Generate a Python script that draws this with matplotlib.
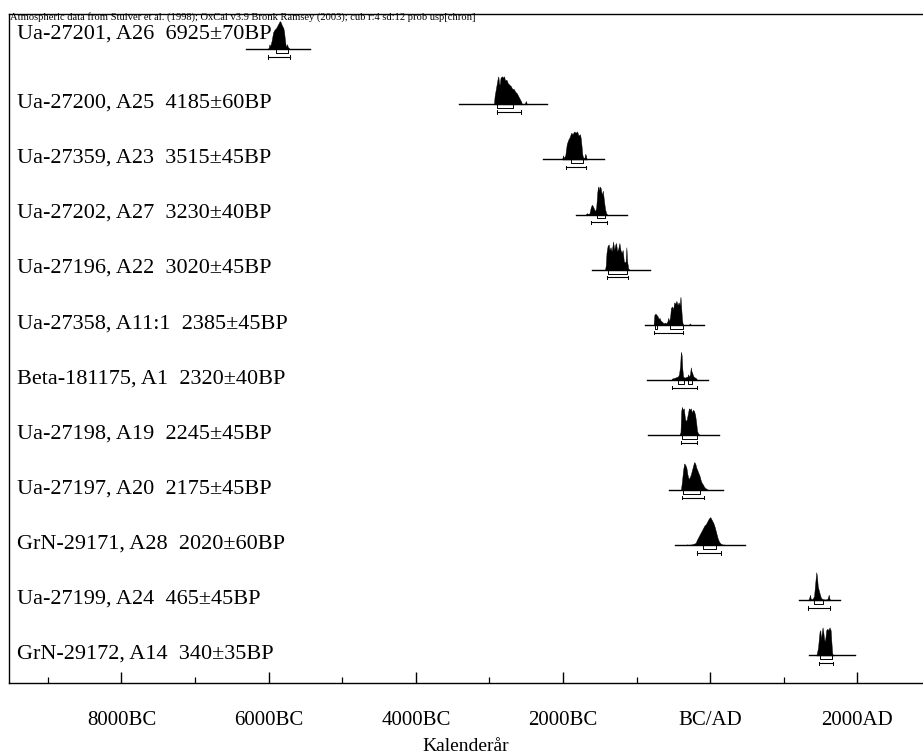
import matplotlib.pyplot as plt
import matplotlib.transforms as mtransforms
import numpy as np

HEADER = ("Atmospheric data from Stuiver et al. (1998); OxCal v3.9 Bronk Ramsey (2003); "
          "cub r:4 sd:12 prob usp[chron]")

LABELS = [
    "Ua-27201, A26  6925±70BP",
    "Ua-27200, A25  4185±60BP",
    "Ua-27359, A23  3515±45BP",
    "Ua-27202, A27  3230±40BP",
    "Ua-27196, A22  3020±45BP",
    "Ua-27358, A11:1  2385±45BP",
    "Beta-181175, A1  2320±40BP",
    "Ua-27198, A19  2245±45BP",
    "Ua-27197, A20  2175±45BP",
    "GrN-29171, A28  2020±60BP",
    "Ua-27199, A24  465±45BP",
    "GrN-29172, A14  340±35BP",
]

# calibrated distributions: calendar year (BC negative) and relative probability
ua27201_yr = [-6020, -6000, -5990, -5980, -5970, -5960, -5950, -5940, -5920, -5900, -5880,
              -5860, -5850, -5840, -5820, -5800, -5790, -5780, -5770, -5760, -5750, -5740,
              -5720, -5700]
ua27201_p = [0, 0.05, 0.18, 0.1, 0.2, 0.3, 0.45, 0.6, 0.7, 0.75, 0.85,
             0.95, 1.0, 0.98, 0.85, 0.75, 0.6, 0.35, 0.15, 0.1, 0.18, 0.08,
             0.03, 0]

ua27200_yr = [-2940, -2930, -2910, -2890, -2880, -2870, -2860, -2850, -2830, -2810, -2800,
              -2790, -2770, -2750, -2730, -2710, -2690, -2670, -2650, -2630, -2610, -2590,
              -2570, -2560, -2540, -2520, -2505, -2495, -2480]
ua27200_p = [0, 0.3, 0.6, 0.9, 1.0, 0.75, 0.7, 0.95, 1.0, 0.95, 1.0,
             0.85, 0.88, 0.75, 0.7, 0.65, 0.55, 0.55, 0.45, 0.4, 0.3, 0.2,
             0.1, 0.02, 0, 0.03, 0.12, 0.03, 0]

ua27359_yr = [-2010, -2000, -1990, -1980, -1970, -1960, -1950, -1930, -1910, -1890, -1870,
              -1850, -1830, -1810, -1790, -1770, -1760, -1750, -1740, -1730, -1710, -1700,
              -1690, -1680, -1670]
ua27359_p = [0.05, 0.15, 0.05, 0.1, 0.15, 0.35, 0.55, 0.7, 0.8, 0.95, 0.9,
             1.0, 0.95, 1.0, 0.85, 0.9, 0.75, 0.5, 0.2, 0.08, 0.05, 0.2,
             0.15, 0.02, 0]

ua27202_yr = [-1690, -1680, -1660, -1640, -1625, -1610, -1595, -1580, -1565, -1550, -1535,
              -1525, -1515, -1505, -1490, -1475, -1460, -1445, -1430, -1415, -1400]
ua27202_p = [0, 0.05, 0.02, 0.05, 0.25, 0.35, 0.3, 0.2, 0.12, 0.25, 0.8,
             1.0, 0.85, 1.0, 0.95, 0.7, 0.85, 0.5, 0.2, 0.05, 0]

ua27196_yr = [-1430, -1420, -1410, -1395, -1380, -1370, -1355, -1340, -1320, -1305, -1290,
              -1280, -1265, -1250, -1235, -1220, -1205, -1190, -1175, -1160, -1150, -1140,
              -1130, -1115, -1100]
ua27196_p = [0, 0.15, 0.6, 0.85, 0.9, 0.7, 0.8, 0.65, 1.0, 0.7, 0.9,
             0.95, 0.65, 0.75, 0.95, 0.7, 0.6, 0.7, 0.3, 0.25, 0.3, 0.8,
             0.3, 0.05, 0]

ua27358_yr = [-770, -760, -745, -730, -715, -700, -690, -675, -660, -645, -630,
              -615, -600, -585, -570, -560, -545, -535, -520, -505, -490, -475,
              -460, -445, -430, -415, -405, -395, -385, -375, -360, -290, -275, -265]
ua27358_p = [0, 0.35, 0.4, 0.35, 0.3, 0.2, 0.25, 0.15, 0.12, 0.08, 0.05,
             0.08, 0.05, 0.1, 0.25, 0.1, 0.3, 0.6, 0.65, 0.55, 0.8, 0.75,
             0.85, 0.7, 0.8, 0.7, 1.0, 0.6, 0.2, 0.03, 0, 0, 0.05, 0]

beta181175_yr = [-530, -520, -500, -480, -460, -440, -425, -410, -400, -390, -380,
                 -370, -350, -330, -310, -300, -290, -275, -265, -255, -245, -235,
                 -220, -205, -190, -180]
beta181175_p = [0, 0.05, 0.06, 0.08, 0.1, 0.12, 0.2, 0.5, 1.0, 0.9, 0.4,
                0.12, 0.08, 0.1, 0.12, 0.2, 0.1, 0.2, 0.45, 0.3, 0.25, 0.15,
                0.1, 0.08, 0.05, 0]

ua27198_yr = [-420, -405, -395, -385, -375, -360, -345, -335, -320, -305, -290,
              -280, -265, -250, -235, -220, -205, -190, -180, -165, -150, -130]
ua27198_p = [0, 0.1, 0.85, 1.0, 0.9, 0.95, 0.6, 0.5, 0.55, 0.75, 0.95,
             0.9, 0.95, 0.8, 0.9, 0.85, 0.7, 0.4, 0.15, 0.05, 0.02, 0]

ua27197_yr = [-400, -385, -370, -355, -340, -325, -310, -295, -280, -265, -250,
              -235, -220, -205, -190, -175, -160, -145, -130, -115, -100, -85,
              -70, -55, -40, -25]
ua27197_p = [0, 0.3, 0.7, 0.95, 0.9, 0.8, 0.55, 0.4, 0.45, 0.55, 0.7,
             0.85, 1.0, 0.95, 0.8, 0.7, 0.6, 0.5, 0.35, 0.25, 0.2, 0.12,
             0.08, 0.05, 0.03, 0]

grn29171_yr = [-330, -320, -300, -250, -200, -180, -160, -140, -120, -100, -80,
               -60, -40, -20, 0, 20, 40, 60, 80, 100, 120, 140,
               160, 200, 230]
grn29171_p = [0, 0.03, 0.02, 0.03, 0.08, 0.2, 0.3, 0.4, 0.5, 0.6, 0.7,
              0.75, 0.85, 0.95, 1.0, 0.9, 0.8, 0.65, 0.45, 0.25, 0.12, 0.06,
              0.03, 0.02, 0]

ua27199_yr = [1320, 1340, 1355, 1365, 1390, 1410, 1425, 1440, 1450, 1460, 1475,
              1490, 1505, 1530, 1560, 1590, 1610, 1620, 1640]
ua27199_p = [0, 0.05, 0.2, 0.05, 0.05, 0.15, 0.6, 1.0, 0.85, 0.5, 0.35,
             0.2, 0.08, 0.04, 0.03, 0.04, 0.2, 0.05, 0]

grn29172_yr = [1440, 1450, 1465, 1475, 1485, 1495, 1505, 1515, 1525, 1535, 1545,
               1555, 1565, 1575, 1590, 1605, 1620, 1635, 1645, 1655, 1665, 1680]
grn29172_p = [0, 0.1, 0.3, 0.6, 0.85, 0.9, 0.55, 0.8, 1.0, 0.85, 0.6,
              0.5, 0.65, 0.9, 0.95, 0.9, 1.0, 0.9, 0.5, 0.1, 0.02, 0]

DIST_YEARS = [ua27201_yr, ua27200_yr, ua27359_yr, ua27202_yr, ua27196_yr, ua27358_yr,
              beta181175_yr, ua27198_yr, ua27197_yr, grn29171_yr, ua27199_yr, grn29172_yr]
DIST_PROB = [ua27201_p, ua27200_p, ua27359_p, ua27202_p, ua27196_p, ua27358_p,
             beta181175_p, ua27198_p, ua27197_p, grn29171_p, ua27199_p, grn29172_p]

# extent of the base line drawn under each distribution
LINE_FROM = [-6308, -3414, -2273, -1825, -1603, -887, -865, -842, -557, -480, 1209, 1345]
LINE_TO = [-5439, -2215, -1440, -1136, -819, -86, -27, 118, 168, 471, 1762, 1966]

# 68.2% and 95.4% ranges
RANGE68 = [
    [(-5901, -5738)],
    [(-2902, -2677)],
    [(-1893, -1734)],
    [(-1535, -1431)],
    [(-1386, -1128)],
    [(-751, -728), (-548, -375)],
    [(-439, -357), (-303, -249)],
    [(-389, -185)],
    [(-375, -140)],
    [(-103, 77)],
    [(1413, 1535)],
    [(1490, 1649)],
]
RANGE95 = [
    [(-6012, -5711)],
    [(-2902, -2572)],
    [(-1965, -1689)],
    [(-1621, -1399)],
    [(-1399, -1114)],
    [(-761, -367)],
    [(-516, -185)],
    [(-398, -177)],
    [(-380, -82)],
    [(-177, 141)],
    [(1332, 1626)],
    [(1473, 1663)],
]

TICKS = [-8000, -6000, -4000, -2000, 0, 2000]
TICK_LABELS = ["8000BC", "6000BC", "4000BC", "2000BC", "BC/AD", "2000AD"]
MINOR_TICKS = [-9000, -7000, -5000, -3000, -1000, 1000]

plt.rcParams["font.family"] = ["Liberation Serif", "DejaVu Serif"]

fig = plt.figure(figsize=(9.23, 7.56), dpi=100)
ax = fig.add_axes([9.3 / 923, (756 - 683) / 756, 1 - 9.3 / 923, (683 - 14) / 756])
ax.set_xlim(-9524, 2890)
ax.set_ylim(11.5, -0.64)

H = 0.51
label_trans = mtransforms.blended_transform_factory(ax.transAxes, ax.transData)
for i in range(len(LABELS)):
    yr = np.array(DIST_YEARS[i], dtype=float)
    p = np.array(DIST_PROB[i], dtype=float)
    p = p / p.max()
    ax.fill_between(yr, i, i - H * p, color="black", linewidth=0.3)
    ax.plot([LINE_FROM[i], LINE_TO[i]], [i, i], color="black", linewidth=1.0)
    for a, b in RANGE68[i]:
        ax.plot([a, a, b, b], [i, i + 0.07, i + 0.07, i], color="black", linewidth=0.7)
    for a, b in RANGE95[i]:
        ax.plot([a, b], [i + 0.14, i + 0.14], color="black", linewidth=0.8)
        ax.plot([a, a], [i + 0.11, i + 0.17], color="black", linewidth=0.7)
        ax.plot([b, b], [i + 0.11, i + 0.17], color="black", linewidth=0.7)

    # first label sits higher, tight under the header
    label_y = i - 0.2 if i == 0 else i + 0.06
    ax.text(0.0084, label_y, LABELS[i], transform=label_trans, fontsize=16,
            ha="left", va="baseline", color="black")

ax.set_xticks(TICKS)
ax.set_xticklabels(TICK_LABELS, fontsize=15)
ax.set_xticks(MINOR_TICKS, minor=True)
ax.set_yticks([])
ax.tick_params(axis="x", which="major", direction="in", length=8, width=1.0, pad=20)
ax.tick_params(axis="x", which="minor", direction="in", length=4.5, width=0.9)
ax.spines["right"].set_visible(False)
for s in ["left", "top", "bottom"]:
    ax.spines[s].set_linewidth(1.0)

ax.set_xlabel("Kalenderår", fontsize=14, labelpad=6)

fig.text(10 / 923, 1 - 20 / 756, HEADER, fontsize=7.6, ha="left", va="baseline")

fig.savefig("out.png", dpi=100)
